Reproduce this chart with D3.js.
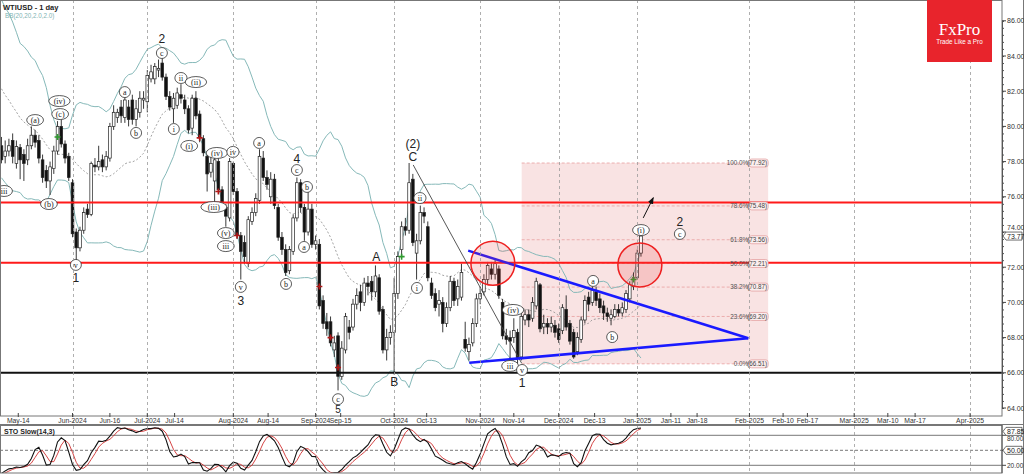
<!DOCTYPE html>
<html><head><meta charset="utf-8">
<script src="https://cdn.jsdelivr.net/npm/d3@7"></script>
<style>body{margin:0;background:#fff;} svg{display:block;font-family:Arial,"Liberation Sans",sans-serif;}</style>
</head><body><svg id="c" width="1024" height="474"></svg>
<script>
// ---------- DATA ----------
const opens=[78.9,78.3,78.6,79.2,77.9,78.8,78.4,78.1,78.9,79.5,79.2,78.1,77.5,76.9,77.6,78.6,80.0,79.0,78.3,76.8,
74.0,73.1,74.1,75.3,75.0,77.8,77.7,78.1,77.7,78.2,80.0,80.5,81.1,80.5,81.1,81.5,80.4,80.8,81.5,81.4,
82.7,82.7,83.2,83.6,82.8,81.7,81.0,81.2,81.8,81.5,81.0,79.9,81.6,80.7,79.3,78.3,77.4,76.9,78.0,76.4,
75.4,74.8,77.9,76.3,73.8,73.4,72.2,74.6,75.1,75.8,78.2,77.1,76.0,77.0,75.4,73.7,73.0,71.8,72.9,74.8,
76.8,75.4,74.0,75.3,73.3,73.3,70.1,68.9,68.9,67.3,68.1,65.8,67.3,68.6,68.6,69.9,70.6,70.0,71.1,71.2,
70.6,71.4,69.6,67.3,68.0,68.3,70.5,73.0,74.3,74.1,77.0,72.8,73.5,75.1,74.3,71.1,70.5,69.9,70.0,68.8,
69.7,71.2,70.2,70.3,67.9,67.2,67.7,68.8,70.2,70.6,71.3,71.9,71.6,71.9,70.0,68.1,68.0,68.0,68.3,66.9,
69.0,69.3,69.1,69.8,71.0,68.6,68.8,68.6,68.7,68.5,68.4,69.6,68.8,68.3,67.2,67.9,69.0,70.3,70.0,70.6,
70.2,69.8,69.4,69.1,69.2,69.6,69.4,69.6,70.2,70.9,71.4,72.8];
const highs=[79.4,79.2,79.3,79.6,79.2,79.0,78.7,79.3,80.0,79.8,79.5,78.4,77.8,78.0,78.9,80.3,80.4,79.2,78.5,77.0,
74.2,74.3,75.4,75.6,78.0,78.2,78.9,78.4,78.6,80.2,81.2,81.0,81.5,81.7,81.5,81.8,81.5,82.0,82.0,83.2,
83.5,83.6,83.8,84.0,83.0,82.0,81.9,82.2,82.4,81.8,81.2,81.8,82.0,80.9,79.5,78.6,78.3,78.2,78.3,76.6,
75.6,78.2,78.0,76.5,74.0,73.8,74.9,75.4,76.2,78.7,78.6,77.5,77.4,77.3,75.6,74.0,73.3,73.2,75.0,77.1,
77.0,75.6,76.4,75.6,73.8,73.6,70.4,69.4,69.2,68.1,68.3,67.8,69.4,69.0,70.2,70.8,71.0,71.4,71.5,71.5,
72.1,71.6,69.8,68.5,68.7,71.4,72.9,74.6,74.8,77.92,77.3,73.9,75.5,75.4,74.6,71.4,70.8,70.7,70.3,70.0,
71.5,71.4,71.3,72.2,68.9,68.0,69.1,70.5,70.9,71.6,72.3,72.3,72.4,72.1,70.2,68.5,68.4,69.1,68.5,69.4,
69.6,69.6,70.3,71.4,71.1,69.3,69.1,69.2,69.0,68.8,69.9,70.4,69.0,68.5,68.3,69.2,70.4,70.6,70.9,70.9,
70.5,70.1,69.7,69.6,69.9,69.9,70.0,70.7,71.2,71.7,73.0,73.95];
const lows=[77.9,77.9,78.3,77.9,77.6,77.0,76.9,77.8,78.7,78.8,77.9,76.8,76.5,76.1,77.3,78.4,78.8,77.9,76.9,73.7,
72.4,72.9,73.9,74.8,74.9,77.4,77.5,77.4,77.5,78.0,79.8,80.2,80.2,80.2,80.0,80.1,80.0,80.5,81.0,80.8,
82.5,82.4,82.8,82.6,81.5,80.9,80.2,81.0,81.3,80.7,79.6,79.5,80.4,79.1,78.3,76.3,77.1,75.7,76.3,75.3,
74.3,74.6,76.1,73.6,71.3,72.2,72.0,74.4,74.9,75.6,76.9,76.4,75.6,75.3,73.5,72.7,71.5,71.6,72.7,74.6,
75.1,73.5,73.8,73.1,73.0,69.6,68.5,68.1,67.5,66.9,65.0,65.6,67.1,67.9,68.4,69.6,69.5,69.8,70.4,70.1,
70.3,69.3,67.1,66.7,67.6,65.9,70.2,72.6,73.8,73.9,73.2,71.3,73.3,74.5,71.2,70.2,69.5,69.2,68.3,68.6,
69.5,69.8,69.8,70.1,67.2,66.7,67.5,68.6,69.9,70.4,71.0,71.3,71.3,70.2,67.9,67.6,66.8,67.7,66.51,66.7,
68.7,68.6,68.9,69.6,68.3,68.2,68.2,68.3,68.0,67.7,68.2,68.4,67.6,66.8,67.0,67.7,68.8,69.5,69.8,69.8,
69.4,69.0,68.9,68.7,69.1,69.2,69.2,69.4,70.0,70.7,71.3,72.6];
const closes=[78.1,78.6,78.9,78.3,78.85,78.1,77.9,78.9,79.5,79.1,78.2,77.1,76.9,77.7,78.6,80.0,79.0,78.2,77.1,73.9,
73.1,74.1,75.1,75.0,77.9,77.7,78.0,77.7,78.3,80.0,80.8,80.8,80.6,81.5,80.4,80.4,81.0,81.6,81.6,82.9,
83.1,83.4,83.3,82.8,81.7,81.1,81.6,81.9,81.6,81.0,79.8,81.6,80.6,79.4,78.5,77.3,77.9,78.1,76.4,75.5,
74.9,78.0,76.3,73.8,72.9,72.6,74.7,75.1,75.9,78.3,77.1,76.7,77.0,75.5,73.7,73.0,71.7,73.0,74.8,76.8,
75.4,74.0,75.3,73.3,73.5,69.8,68.8,68.5,67.7,67.7,65.8,67.4,69.2,68.3,69.9,70.4,70.0,71.1,70.9,70.6,
71.5,69.5,67.3,68.0,68.3,70.5,72.6,74.3,74.1,76.8,73.4,73.5,75.1,74.9,71.4,70.4,69.7,70.1,68.8,69.7,
71.2,70.1,70.9,71.7,67.4,67.6,68.8,70.2,70.5,71.3,72.1,71.6,72.2,70.4,68.1,67.9,67.8,68.4,66.8,69.2,
69.3,69.0,70.0,71.2,68.5,68.8,68.6,68.8,68.3,67.9,69.7,68.6,67.8,66.9,68.0,69.0,70.1,69.9,70.7,70.1,
69.7,69.4,69.2,69.3,69.6,69.4,69.7,70.5,71.0,71.4,72.8,73.77];
// closes of the 20 sessions before the first visible bar (seed for BB / stochastic)
const priorCloses=[84.9,85.9,84.7,85.3,85.1,85.0,82.4,82.4,82.8,81.6,83.0,82.5,83.3,83.5,82.3,81.6,78.7,78.6,77.8,78.2];

const tickLabels=["May-14","Jun-2024","Jun-16","Jul-2024","Jul-14","Aug-2024","Aug-14","Sep-2024","Sep-15","Oct-2024","Oct-13","Nov-2024","Nov-14","Dec-2024","Dec-13","Jan-2025","Jan-11","Jan-18","Feb-2025","Feb-10","Feb-17","Mar-2025","Mar-10","Mar-17","Apr-2025"];
const tickSlots=[4.5,19,29,39,46.3,62,71.3,84,90.7,105,113.7,128,137,149,158.6,170,179,186,200,209,215.5,228,237,244.3,259];
const monthSlots=[19,39,62,84,105,128,149,170,200,228,259];
const priceTicks=[64,66,68,70,72,74,76,78,80,82,84,86];

const fibRatios=["100.0%","78.6%","61.8%","50.0%","38.2%","23.6%","0.0%"];
const fibPrices=[77.92,75.48,73.56,72.21,70.87,69.20,66.51];
const fibSlots=[139.1,205];

const redLevels=[75.68,72.25];
const blackLevels=[66.0];

const waveText=["iii","(a)","(iv)","(c)","(b)","v","1","2","c","a","b","ii","i","(ii)","(i)","(iv)","iv","(iii)","(v)","iii","a","4","c","b","a","b","v","3","c","5","(2)","C","ii","A","i","B","(iv)","iii","v","1","a","b","(i)","c","2"];
const waveSlot=[0.7,9.0,15.5,15.7,12.7,19.9,19.9,42.9,42.9,33.0,36.0,48.0,46.1,52.0,50.2,57.6,61.9,56.8,60.0,60.0,68.9,79.0,79.0,81.7,80.9,76.1,64.0,64.0,90.0,90.0,110.0,110.0,111.9,100.2,111.1,105.0,136.8,136.0,139.2,139.2,158.2,163.3,171.0,181.4,181.4];
const wavePrice=[76.33,80.36,81.44,80.70,75.59,72.13,71.40,84.97,84.17,81.95,79.63,82.75,79.85,82.52,78.89,78.49,78.55,75.42,73.94,73.20,79.06,78.20,77.52,76.56,73.15,71.05,70.88,70.10,64.50,63.95,79.00,78.26,75.93,72.58,70.82,65.50,69.57,66.39,66.16,65.45,71.22,68.03,74.11,73.89,74.57];

const sigSlot=[15,53,58,63,85,88,90,107,169];
const sigPrice=[79.4,79.35,76.3,73.8,70.9,68.0,66.3,72.6,71.3];
const sigType=["buy","sell","sell","sell","sell","sell","sell","buy","buy"];

const triUpper=[[124.8,72.94],[199.7,67.96]];
const triLower=[[125.1,66.57],[199.7,67.96]];
const trendLine=[[110.1,77.81],[139.1,66.54]];
const circles=[[131.4,72.22],[170.7,72.13]];
const arrowPts=[[171.6,74.80],[174.3,75.95]];

const lastPrice=73.77;
const stoLevels=[80,50,20];
const stoTags=["87.85","50.00"];

// ---------- SCALES ----------
const svg=d3.select('#c');
const R=1002, MB=416;
const x=d3.scaleLinear().domain([0,100]).range([1.44,375.44]);
const y=d3.scaleLinear().domain([64,86]).range([408,20.8]);
const ys=d3.scaleLinear().domain([0,100]).range([475.3,425.3]);

const defs=svg.append('defs');
defs.append('clipPath').attr('id','cm').append('rect').attr('x',0).attr('y',0).attr('width',R).attr('height',MB);
defs.append('clipPath').attr('id','cs').append('rect').attr('x',0).attr('y',425).attr('width',R).attr('height',48);
defs.append('marker').attr('id','ah').attr('viewBox','0 0 10 10').attr('refX',9).attr('refY',5)
  .attr('markerWidth',7).attr('markerHeight',7).attr('orient','auto')
  .append('path').attr('d','M0,1 L10,5 L0,9 Z').attr('fill','#111');

svg.append('rect').attr('width',1024).attr('height',474).attr('fill','#fff');
const main=svg.append('g').attr('clip-path','url(#cm)');
const sto=svg.append('g').attr('clip-path','url(#cs)');

// fib box
main.append('rect').attr('x',x(fibSlots[0])).attr('width',x(fibSlots[1])-x(fibSlots[0]))
  .attr('y',y(fibPrices[0])).attr('height',y(fibPrices[6])-y(fibPrices[0])).attr('fill','#f9e3e3');
fibPrices.forEach(p=>{
  main.append('line').attr('x1',x(fibSlots[0])).attr('x2',x(fibSlots[1])).attr('y1',y(p)).attr('y2',y(p))
   .attr('stroke','#e8a0a0').attr('stroke-dasharray','3,2').attr('stroke-width',0.8);
});

// vertical month grid
monthSlots.forEach(s=>{
  svg.append('line').attr('x1',Math.round(x(s))+0.5).attr('x2',Math.round(x(s))+0.5).attr('y1',0).attr('y2',473)
   .attr('stroke','#9a9a9a').attr('stroke-dasharray','3,3').attr('stroke-width',0.8);
});

// Bollinger
const allC=priorCloses.concat(closes), off=priorCloses.length;
const bb=closes.map((c,i)=>{const w=allC.slice(i+off-19,i+off+1);const m=d3.mean(w);const sd=Math.sqrt(d3.mean(w,v=>(v-m)*(v-m)));return {i,m,u:m+2*sd,l:m-2*sd};});
const ln=(f)=>d3.line().x(d=>x(d.i)).y(f);
main.append('path').datum(bb).attr('d',ln(d=>y(d.u))).attr('fill','none').attr('stroke','#86b9b9').attr('stroke-width',1);
main.append('path').datum(bb).attr('d',ln(d=>y(d.l))).attr('fill','none').attr('stroke','#86b9b9').attr('stroke-width',1);
main.append('path').datum(bb).attr('d',ln(d=>y(d.m))).attr('fill','none').attr('stroke','#8c8c8c').attr('stroke-width',0.8).attr('stroke-dasharray','2,2');

// candles
const bars=closes.map((c,i)=>({i,o:opens[i],h:highs[i],l:lows[i],c}));
const cg=main.append('g');
cg.selectAll('line.w').data(bars).join('line').attr('x1',d=>x(d.i)).attr('x2',d=>x(d.i))
  .attr('y1',d=>y(d.h)).attr('y2',d=>y(d.l)).attr('stroke','#222').attr('stroke-width',0.9);
cg.selectAll('rect.b').data(bars).join('rect').attr('x',d=>x(d.i)-1.35).attr('width',2.7)
  .attr('y',d=>y(Math.max(d.o,d.c))).attr('height',d=>Math.max(1,Math.abs(y(d.o)-y(d.c))))
  .attr('fill',d=>d.c>=d.o?'#fff':'#111').attr('stroke','#222').attr('stroke-width',0.7);

// signals
sigSlot.forEach((s,k)=>{
  const cx=x(s), cy=y(sigPrice[k]), col=sigType[k]==='buy'?'#2e9a2e':'#b01818';
  main.append('path').attr('d',`M${cx-3},${cy}H${cx+3}M${cx},${cy-3}V${cy+3}`).attr('stroke',col).attr('stroke-width',1.6);
});

// horizontal levels
redLevels.forEach(p=>main.append('line').attr('x1',0).attr('x2',R).attr('y1',y(p)).attr('y2',y(p)).attr('stroke','#ff1a1a').attr('stroke-width',2));
blackLevels.forEach(p=>main.append('line').attr('x1',0).attr('x2',R).attr('y1',y(p)).attr('y2',y(p)).attr('stroke','#111').attr('stroke-width',2));

// trend line & triangle
main.append('line').attr('x1',x(trendLine[0][0])).attr('y1',y(trendLine[0][1])).attr('x2',x(trendLine[1][0])).attr('y2',y(trendLine[1][1])).attr('stroke','#444').attr('stroke-width',0.9);
[triUpper,triLower].forEach(t=>main.append('line').attr('x1',x(t[0][0])).attr('y1',y(t[0][1])).attr('x2',x(t[1][0])).attr('y2',y(t[1][1])).attr('stroke','#1a1aff').attr('stroke-width',2.5));
circles.forEach(c=>main.append('circle').attr('cx',x(c[0])).attr('cy',y(c[1])).attr('r',22).attr('fill','rgba(235,60,60,0.18)').attr('stroke','#ee2020').attr('stroke-width',1.5));
main.append('line').attr('x1',x(arrowPts[0][0])).attr('y1',y(arrowPts[0][1])).attr('x2',x(arrowPts[1][0])).attr('y2',y(arrowPts[1][1])).attr('stroke','#111').attr('stroke-width',1).attr('marker-end','url(#ah)');

// fib labels
fibPrices.forEach((p,k)=>{
  const t=`(${p.toFixed(2)})`, xr=x(fibSlots[1]);
  main.append('rect').attr('x',xr-19).attr('y',y(p)-4).attr('width',19).attr('height',8).attr('rx',2.5).attr('fill','#fbeeee').attr('stroke','#e29a9a').attr('stroke-width',0.7);
  main.append('text').attr('x',xr-1).attr('y',y(p)+2.3).attr('text-anchor','end').attr('font-size',6.3).attr('fill','#444').text(t);
  main.append('text').attr('x',xr-20).attr('y',y(p)+2.3).attr('text-anchor','end').attr('font-size',6.3).attr('fill','#555').text(fibRatios[k]);
});

// wave labels
const plain=/^[0-9A-Z]$|^\(2\)$/;
waveText.forEach((t,k)=>{
  const cx=x(waveSlot[k]), cy=y(wavePrice[k]);
  if(plain.test(t)){
    const fs=t==='5'?10:12;
    main.append('text').attr('x',cx).attr('y',cy+fs*0.37).attr('text-anchor','middle').attr('font-size',fs).attr('fill','#222').text(t);
  } else {
    const rx=Math.max(5.5,t.length*2.3+1.5);
    main.append('ellipse').attr('cx',cx).attr('cy',cy).attr('rx',rx).attr('ry',5.5).attr('fill','#fff').attr('stroke','#333').attr('stroke-width',0.8);
    main.append('text').attr('x',cx).attr('y',cy+2.6).attr('text-anchor','middle').attr('font-size',8).attr('font-family','"Liberation Serif",serif').attr('fill','#222').text(t);
  }
});

// stochastic
const allH=priorCloses.concat(highs), allL=priorCloses.concat(lows);
const num=[],den=[];
for(let j=0;j<allC.length;j++){const a=Math.max(0,j-13);const hh=d3.max(allH.slice(a,j+1)),ll=d3.min(allL.slice(a,j+1));num.push(allC[j]-ll);den.push(hh-ll);}
const K=[];for(let j=0;j<allC.length;j++){const a=Math.max(0,j-2);const n=d3.sum(num.slice(a,j+1)),d=d3.sum(den.slice(a,j+1));K.push(d?100*n/d:50);}
const D=K.map((v,j)=>d3.mean(K.slice(Math.max(0,j-2),j+1)));
const stoData=closes.map((c,i)=>({i,k:K[i+off],d:D[i+off]}));
stoLevels.forEach(v=>sto.append('line').attr('x1',0).attr('x2',R).attr('y1',ys(v)).attr('y2',ys(v)).attr('stroke','#555').attr('stroke-width',0.8).attr('stroke-dasharray',v===50?'3,2':null));
sto.append('path').datum(stoData).attr('d',d3.line().x(d=>x(d.i)).y(d=>ys(d.d))).attr('fill','none').attr('stroke','#d03030').attr('stroke-width',0.9);
sto.append('path').datum(stoData).attr('d',d3.line().x(d=>x(d.i)).y(d=>ys(d.k))).attr('fill','none').attr('stroke','#111').attr('stroke-width',1.1);
svg.append('text').attr('x',4).attr('y',434).attr('font-size',7).attr('font-weight','bold').attr('fill','#222').text('STO Slow(14,3)');

// frames
svg.append('rect').attr('x',0.5).attr('y',0.5).attr('width',R-0.5).attr('height',MB-0.5).attr('fill','none').attr('stroke','#777');
svg.append('rect').attr('x',0.5).attr('y',425.5).attr('width',R-0.5).attr('height',47.5).attr('fill','none').attr('stroke','#777');
svg.append('line').attr('x1',0).attr('x2',1024).attr('y1',424.5).attr('y2',424.5).attr('stroke','#777');
svg.append('line').attr('x1',1023.5).attr('x2',1023.5).attr('y1',0).attr('y2',474).attr('stroke','#777');

// right axis main
const ya=d3.axisRight(y).tickValues(d3.range(64,86.01,0.4)).tickSize(2).tickFormat(()=>'');
svg.append('g').attr('transform',`translate(${R},0)`).call(ya).call(g=>{g.select('.domain').attr('stroke','#555');g.selectAll('line').attr('stroke','#555');});
const lastY=y(lastPrice);
svg.append('g').attr('transform',`translate(${R},0)`).selectAll('g').data(priceTicks).join('g').each(function(v){
  const g=d3.select(this);
  g.append('line').attr('x1',0).attr('x2',4).attr('y1',y(v)).attr('y2',y(v)).attr('stroke','#444');
  // label partly hidden behind the price tag is nudged up a little
  const ty=Math.abs(y(v)-lastY)<8?lastY-6.5:y(v)+2.5;
  g.append('text').attr('x',5).attr('y',ty).attr('font-size',7).attr('fill','#333').text(v.toFixed(2));
});
function tag(ty,t){
  svg.append('path').attr('d',`M${R+1},${ty} L${R+4},${ty-4} H1022 V${ty+4} H${R+4} Z`).attr('fill','#fff').attr('stroke','#333').attr('stroke-width',0.7);
  svg.append('text').attr('x',R+5).attr('y',ty+2.5).attr('font-size',7).attr('fill','#222').text(t);
}
tag(lastY,lastPrice.toFixed(2));

// stochastic axis
svg.append('line').attr('x1',R).attr('x2',R).attr('y1',425).attr('y2',473).attr('stroke','#555');
stoLevels.forEach(v=>{
  svg.append('line').attr('x1',R).attr('x2',R+4).attr('y1',ys(v)).attr('y2',ys(v)).attr('stroke','#444');
  if(!stoTags.includes(v.toFixed(2))){
    const ty=v===80?ys(v)+6:ys(v)+2.5;
    svg.append('text').attr('x',R+5).attr('y',ty).attr('font-size',6.5).attr('fill','#333').text(v.toFixed(2));
  }
});
stoTags.forEach(t=>tag(ys(+t),t));

// time axis
tickSlots.forEach((s,k)=>{
  svg.append('line').attr('x1',x(s)).attr('x2',x(s)).attr('y1',413).attr('y2',417).attr('stroke','#444');
  svg.append('text').attr('x',x(s)).attr('y',423).attr('text-anchor','middle').attr('font-size',6.8).attr('fill','#333').text(tickLabels[k]);
});

// titles
svg.append('text').attr('x',3).attr('y',9.5).attr('font-size',7.5).attr('font-weight','bold').attr('fill','#222').text('WTIUSD - 1 day');
svg.append('text').attr('x',5).attr('y',17.5).attr('font-size',6.3).attr('fill','#7fb3b3').text('BB(20,20,2.0,2.0)');

// logo
svg.append('rect').attr('x',927).attr('y',0).attr('width',65).attr('height',62).attr('fill','#e8242c');
svg.append('text').attr('x',959.5).attr('y',35).attr('text-anchor','middle').attr('font-size',17).attr('font-family','"Liberation Serif",serif').attr('fill','#fff').text('FxPro');
svg.append('text').attr('x',959.5).attr('y',43.5).attr('text-anchor','middle').attr('font-size',6.3).attr('fill','#fff').text('Trade Like a Pro');
</script></body></html>
